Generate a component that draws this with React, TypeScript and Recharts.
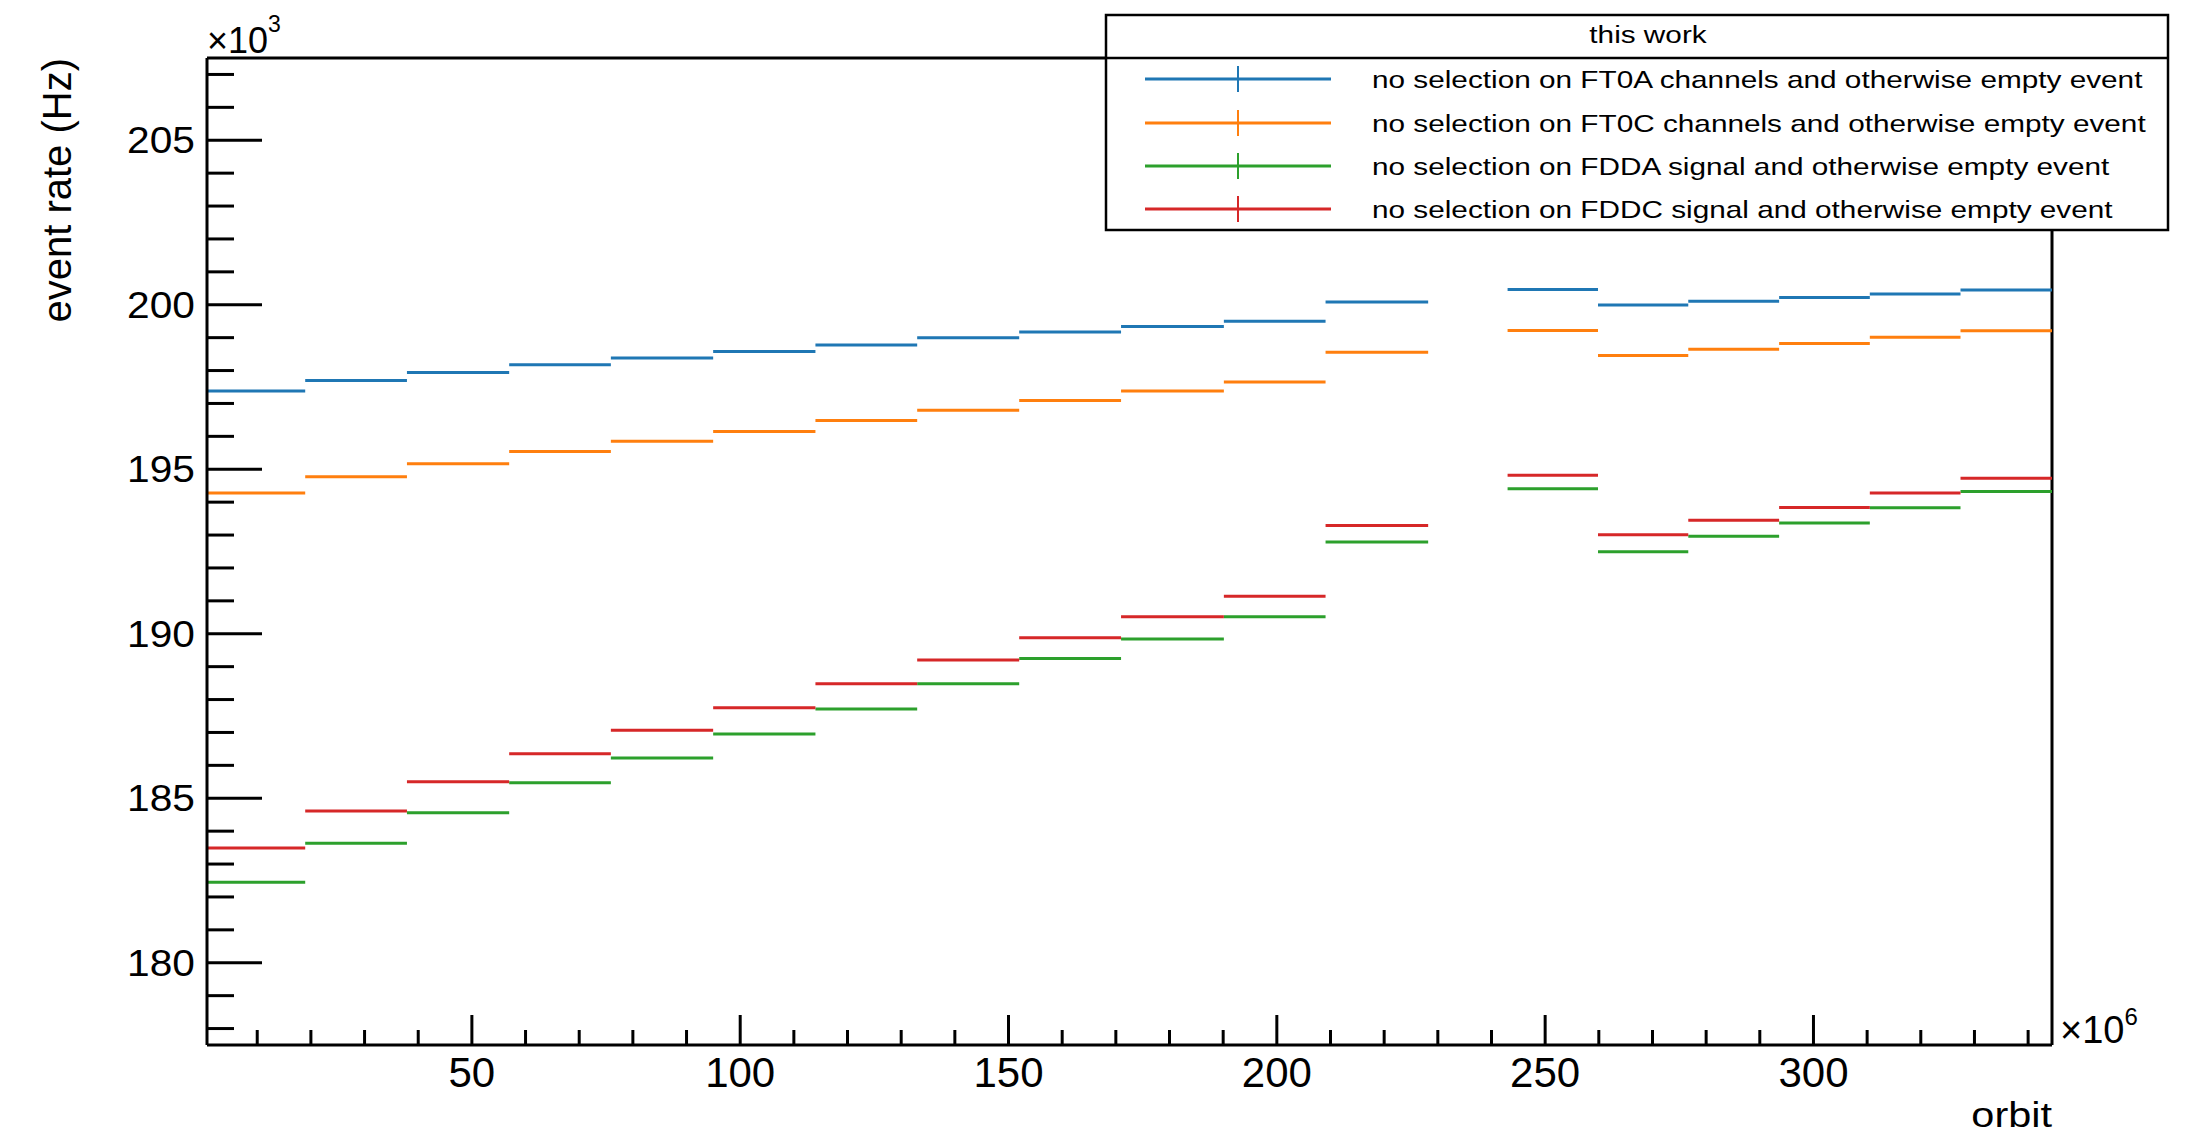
import React from 'react';
import { ComposedChart, Line, XAxis, YAxis, Customized } from 'recharts';

// Bin edges (orbit, x10^6) for each run interval
const binLow = [0.64, 18.94, 37.9, 56.95, 75.9, 94.96, 114.02, 132.98, 151.99, 170.97, 190.13, 209.08, 243.0, 259.85, 276.67, 293.6, 310.5, 327.4];
const binHigh = [18.94, 37.9, 56.95, 75.9, 94.96, 114.02, 132.98, 151.99, 170.97, 190.13, 209.08, 228.2, 259.85, 276.67, 293.6, 310.5, 327.4, 344.45];

// Event rates (Hz, x10^3) per bin
const ft0aRate = [197.38, 197.7, 197.94, 198.18, 198.38, 198.58, 198.78, 199.0, 199.17, 199.34, 199.5, 200.08, 200.46, 199.99, 200.11, 200.22, 200.33, 200.45];
const ft0cRate = [194.28, 194.77, 195.17, 195.54, 195.85, 196.15, 196.48, 196.79, 197.09, 197.38, 197.65, 198.56, 199.22, 198.46, 198.65, 198.82, 199.01, 199.21];
const fddaRate = [182.45, 183.63, 184.56, 185.47, 186.22, 186.95, 187.71, 188.48, 189.25, 189.84, 190.52, 192.79, 194.41, 192.49, 192.96, 193.37, 193.83, 194.32];
const fddcRate = [183.49, 184.61, 185.5, 186.35, 187.07, 187.75, 188.48, 189.2, 189.88, 190.52, 191.14, 193.29, 194.82, 193.01, 193.45, 193.84, 194.28, 194.73];

const seriesNames = [
  'no selection on FT0A channels and otherwise empty event',
  'no selection on FT0C channels and otherwise empty event',
  'no selection on FDDA signal and otherwise empty event',
  'no selection on FDDC signal and otherwise empty event',
];
const seriesColors = ['#1f77b4', '#ff7f0e', '#2ca02c', '#d62728'];
const seriesRates = [ft0aRate, ft0cRate, fddaRate, fddcRate];
const legendHeader = 'this work';

const xMajorTicks = [50, 100, 150, 200, 250, 300];
const yMajorTicks = [180, 185, 190, 195, 200, 205];
const xRange: [number, number] = [0.64, 344.45];
const yRange: [number, number] = [177.5, 207.5];
const xMinorStep = 10;
const yMinorStep = 1;

const FONT = '"Liberation Sans", Arial, Helvetica, sans-serif';

// layout
const W = 2198;
const H = 1138;
const PLOT_LEFT = 207;
const PLOT_RIGHT = 2052;
const PLOT_TOP = 58;
const PLOT_BOTTOM = 1045;

function minorTicks(range: [number, number], step: number) {
  const out: number[] = [];
  const start = Math.ceil(range[0] / step) * step;
  for (let v = start; v <= range[1] + 1e-9; v += step) out.push(Math.round(v * 1000) / 1000);
  return out;
}
const xTicks = minorTicks(xRange, xMinorStep);
const yTicks = minorTicks(yRange, yMinorStep);

// horizontal bin segments, broken between bins by null points
function stepSegments(values: number[]) {
  const pts: { orbit: number; rate: number | null }[] = [];
  values.forEach((v, i) => {
    pts.push({ orbit: binLow[i], rate: v });
    pts.push({ orbit: binHigh[i], rate: v });
    pts.push({ orbit: binHigh[i], rate: null });
  });
  return pts;
}

const XTick = (props: any) => {
  const { x, y, payload } = props;
  const major = xMajorTicks.includes(payload.value);
  return (
    <g>
      <line x1={x} x2={x} y1={y} y2={y - (major ? 30 : 15)} stroke="#000" strokeWidth={3} />
      {major && (
        <text x={x} y={y + 42} textAnchor="middle" fontSize={42} fontFamily={FONT} fill="#000">
          {payload.value}
        </text>
      )}
    </g>
  );
};

const YTick = (props: any) => {
  const { x, y, payload } = props;
  const major = yMajorTicks.includes(payload.value);
  return (
    <g>
      <line x1={x} x2={x + (major ? 55 : 27)} y1={y} y2={y} stroke="#000" strokeWidth={3} />
      {major && (
        <text
          transform={`translate(${x - 12}, ${y + 13}) scale(1.13, 1)`}
          textAnchor="end"
          fontSize={36}
          fontFamily={FONT}
          fill="#000"
        >
          {payload.value}
        </text>
      )}
    </g>
  );
};

const legendBox = { x: 1106, y: 15, w: 1062, h: 215, sep: 58 };
const legendRows = [79, 123, 166, 209];

const Overlay = () => (
  <g fontFamily={FONT} fill="#000">
    {/* top and right edges of the frame */}
    <line x1={PLOT_LEFT} x2={PLOT_RIGHT} y1={PLOT_TOP} y2={PLOT_TOP} stroke="#000" strokeWidth={3} />
    <line x1={PLOT_RIGHT} x2={PLOT_RIGHT} y1={PLOT_TOP} y2={PLOT_BOTTOM} stroke="#000" strokeWidth={3} />

    {/* axis titles and exponents */}
    <text transform={`translate(71, ${PLOT_TOP}) rotate(-90)`} textAnchor="end" fontSize={40}>
      event rate (Hz)
    </text>
    <text x={PLOT_LEFT} y={52.7} fontSize={36}>
      ×10<tspan dy={-21} fontSize={23}>3</tspan>
    </text>
    <text x={2060} y={1043} fontSize={38}>
      ×10<tspan dy={-18} fontSize={24}>6</tspan>
    </text>
    <text transform={`translate(${PLOT_RIGHT}, 1127) scale(1.185, 1)`} textAnchor="end" fontSize={35}>
      orbit
    </text>

    {/* legend */}
    <rect x={legendBox.x} y={legendBox.y} width={legendBox.w} height={legendBox.h} fill="#fff" stroke="#000" strokeWidth={2.5} />
    <line x1={legendBox.x} x2={legendBox.x + legendBox.w} y1={legendBox.sep} y2={legendBox.sep} stroke="#000" strokeWidth={2.5} />
    <text transform={`translate(1648, 43) scale(1.24, 1)`} textAnchor="middle" fontSize={24}>
      {legendHeader}
    </text>
    {seriesNames.map((name, i) => (
      <g key={name}>
        <line x1={1145} x2={1331} y1={legendRows[i]} y2={legendRows[i]} stroke={seriesColors[i]} strokeWidth={3} />
        <line x1={1238} x2={1238} y1={legendRows[i] - 13} y2={legendRows[i] + 13} stroke={seriesColors[i]} strokeWidth={2} />
        <text transform={`translate(1372, ${legendRows[i] + 9}) scale(1.24, 1)`} fontSize={24}>
          {name}
        </text>
      </g>
    ))}
  </g>
);

export default function App() {
  return (
    <div style={{ position: 'absolute', left: 0, top: 0, width: W, height: H, background: '#fff' }}>
      <ComposedChart
        width={W}
        height={H}
        margin={{ top: PLOT_TOP, right: W - PLOT_RIGHT, bottom: 0, left: 0 }}
      >
        <XAxis
          type="number"
          dataKey="orbit"
          domain={xRange}
          allowDataOverflow
          ticks={xTicks}
          interval={0}
          tick={<XTick />}
          tickLine={false}
          tickSize={0}
          tickMargin={0}
          axisLine={{ stroke: '#000', strokeWidth: 3 }}
          height={H - PLOT_BOTTOM}
        />
        <YAxis
          type="number"
          dataKey="rate"
          domain={yRange}
          allowDataOverflow
          ticks={yTicks}
          interval={0}
          tick={<YTick />}
          tickLine={false}
          tickSize={0}
          tickMargin={0}
          axisLine={{ stroke: '#000', strokeWidth: 3 }}
          width={PLOT_LEFT}
        />
        {seriesRates.map((rates, i) => (
          <Line
            key={seriesNames[i]}
            data={stepSegments(rates)}
            dataKey="rate"
            type="linear"
            stroke={seriesColors[i]}
            strokeWidth={3}
            dot={false}
            activeDot={false}
            connectNulls={false}
            isAnimationActive={false}
          />
        ))}
        <Customized component={<Overlay />} />
      </ComposedChart>
    </div>
  );
}
